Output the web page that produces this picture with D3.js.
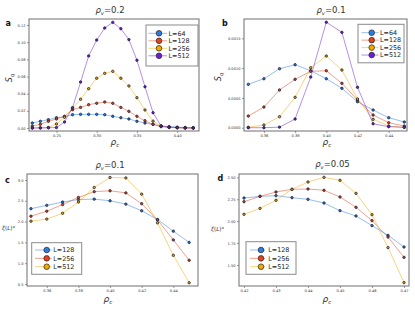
<!DOCTYPE html>
<html>
<head>
<meta charset="utf-8">
<script src="https://cdn.jsdelivr.net/npm/d3@7"></script>
<style>
  body { margin: 0; background: #fff; }
  svg { display: block; }
</style>
</head>
<body>
<div id="chart"></div>
<script>
// ── Data ────────────────────────────────────────────────────────────────────
// panel a: S_q vs rho_c, rho_v = 0.2
const xA = [0.22, 0.23, 0.24, 0.25, 0.26, 0.27, 0.28, 0.29, 0.30, 0.31, 0.32,
            0.33, 0.34, 0.35, 0.36, 0.37, 0.38, 0.39, 0.40, 0.41, 0.42];
const sqA64  = [0.0058, 0.0078, 0.0097, 0.0120, 0.0132, 0.0155, 0.0159, 0.0159, 0.0159, 0.0155, 0.0136,
                0.0120, 0.0105, 0.0078, 0.0058, 0.0043, 0.0023, 0.0016, 0.0010, 0.0006, 0.0003];
const sqA128 = [0.0023, 0.0043, 0.0078, 0.0105, 0.0136, 0.0213, 0.0240, 0.0272, 0.0288, 0.0303, 0.0288,
                0.0240, 0.0194, 0.0136, 0.0085, 0.0043, 0.0015, 0.0008, 0.0004, 0.0002, 0.0001];
const sqA256 = [0.0000, 0.0003, 0.0005, 0.0047, 0.0125, 0.0230, 0.0335, 0.0458, 0.0580, 0.0637, 0.0660,
                0.0580, 0.0490, 0.0353, 0.0210, 0.0080, 0.0023, 0.0005, 0.0003, 0.0000, 0.0000];
const sqA512 = [0.0000, 0.0000, 0.0003, 0.0005, 0.0070, 0.0237, 0.0536, 0.0840, 0.1025, 0.1165, 0.1231,
                0.1157, 0.1030, 0.0790, 0.0480, 0.0178, 0.0023, 0.0010, 0.0005, 0.0000, 0.0000];

// panel b: S_q vs rho_c, rho_v = 0.1
const xB = [0.35, 0.36, 0.37, 0.38, 0.39, 0.40, 0.41, 0.42, 0.43, 0.44, 0.45];
const sqB64  = [0.000728, 0.000822, 0.000990, 0.001057, 0.000956, 0.000822, 0.000661, 0.000436, 0.000297, 0.000168, 0.000096];
const sqB128 = [0.000196, 0.000347, 0.000633, 0.000812, 0.000946, 0.000956, 0.000745, 0.000465, 0.000213, 0.000084, 0.000029];
const sqB256 = [0.000007, 0.000045, 0.000185, 0.000510, 0.001007, 0.001203, 0.000968, 0.000482, 0.000141, 0.000029, 0.000007];
const sqB512 = [0.000000, 0.000000, 0.000010, 0.000146, 0.000850, 0.001770, 0.001600, 0.000678, 0.000067, 0.000017, 0.000007];

// panel c: xi/L vs rho_c, rho_v = 0.1
const xC = [0.35, 0.36, 0.37, 0.38, 0.39, 0.40, 0.41, 0.42, 0.43, 0.44, 0.45];
const xiC128 = [2.31, 2.39, 2.47, 2.53, 2.54, 2.50, 2.42, 2.26, 2.05, 1.77, 1.50];
const xiC256 = [2.13, 2.25, 2.41, 2.58, 2.72, 2.74, 2.69, 2.43, 2.04, 1.56, 1.07];
const xiC512 = [2.01, 2.06, 2.20, 2.47, 2.82, 3.06, 3.05, 2.66, 1.97, 1.19, 0.53];

// panel d: xi/L vs rho_c, rho_v = 0.05
const xD = [0.420, 0.425, 0.430, 0.435, 0.440, 0.445, 0.450, 0.455, 0.460, 0.465, 0.470];
const xiD128 = [2.264, 2.283, 2.291, 2.268, 2.249, 2.207, 2.120, 2.059, 1.949, 1.838, 1.705];
const xiD256 = [2.222, 2.283, 2.333, 2.363, 2.367, 2.352, 2.276, 2.158, 2.006, 1.819, 1.587];
const xiD512 = [2.078, 2.146, 2.238, 2.363, 2.447, 2.500, 2.466, 2.317, 2.074, 1.698, 1.299];

// tick values
const ticksXA = [0.25, 0.30, 0.35, 0.40];
const ticksYA = [0.00, 0.02, 0.04, 0.06, 0.08, 0.10, 0.12];
const ticksXB = [0.36, 0.38, 0.40, 0.42, 0.44];
const ticksYB = [0.0000, 0.0005, 0.0010, 0.0015];
const ticksYC = [0.5, 1.0, 1.5, 2.0, 2.5, 3.0];
const ticksXD = [0.42, 0.43, 0.44, 0.45, 0.46, 0.47];
const ticksYD = [1.50, 1.75, 2.00, 2.25, 2.50];

// colour goes by series order in each panel (blue, red, orange, purple)
const PALETTE = ['#2b7de6', '#e2431c', '#f2a900', '#6b1fd6'];
const FONT = '"DejaVu Sans", sans-serif';
const INK = '#333';

const W = 415, H = 310;
const svg = d3.select('#chart').append('svg')
  .attr('width', W).attr('height', H)
  .attr('viewBox', `0 0 ${W} ${H}`);

// ρ with subscript, e.g. ρ_v=0.2
function rhoText(g, x, y, sub, rest, size, anchor) {
  const t = g.append('text')
    .attr('x', x).attr('y', y)
    .attr('text-anchor', anchor)
    .attr('font-family', FONT).attr('font-size', size).attr('fill', INK);
  t.append('tspan').attr('font-style', 'italic').text('ρ');
  t.append('tspan').attr('font-style', 'italic').attr('font-size', size * 0.62)
    .attr('dy', size * 0.25).text(sub);
  if (rest) t.append('tspan').attr('dy', -size * 0.25).text(rest);
  return t;
}

function drawPanel(p) {
  const g = svg.append('g');
  const x = d3.scaleLinear().domain(p.xDom).range([p.box.l, p.box.r]);
  const y = d3.scaleLinear().domain(p.yDom).range([p.box.b, p.box.t]);

  // ── Axes ─────────────────────────────────────────────────────────────────
  const ax = g.append('g')
    .attr('transform', `translate(0,${p.box.b})`)
    .call(d3.axisBottom(x).tickValues(p.xTicks).tickFormat(d3.format(p.xFmt))
      .tickSize(2).tickPadding(1.5));
  const ay = g.append('g')
    .attr('transform', `translate(${p.box.l},0)`)
    .call(d3.axisLeft(y).tickValues(p.yTicks).tickFormat(d3.format(p.yFmt))
      .tickSize(2).tickPadding(1.5));
  [ax, ay].forEach(a => {
    a.select('.domain').remove();
    a.selectAll('line').attr('stroke', '#555').attr('stroke-width', 0.6);
    a.selectAll('text').attr('font-size', 3.6).attr('font-family', FONT).attr('fill', INK);
  });

  // frame
  g.append('rect')
    .attr('x', p.box.l).attr('y', p.box.t)
    .attr('width', p.box.r - p.box.l).attr('height', p.box.b - p.box.t)
    .attr('fill', 'none').attr('stroke', '#6e6e6e').attr('stroke-width', 1);

  // ── Series ───────────────────────────────────────────────────────────────
  const line = d3.line().x(d => x(d[0])).y(d => y(d[1]));
  p.series.forEach((s, k) => {
    const pts = p.xs.map((v, i) => [v, s.ys[i]]);
    g.append('path').datum(pts)
      .attr('d', line)
      .attr('fill', 'none').attr('stroke', PALETTE[k])
      .attr('stroke-opacity', 0.5).attr('stroke-width', 1);
  });
  p.series.forEach((s, k) => {
    const pts = p.xs.map((v, i) => [v, s.ys[i]]);
    g.selectAll(null).data(pts).join('circle')
      .attr('cx', d => x(d[0])).attr('cy', d => y(d[1]))
      .attr('r', 1.2)
      .attr('fill', PALETTE[k]).attr('stroke', '#1e1e2e').attr('stroke-width', 0.8);
  });

  // ── Legend ───────────────────────────────────────────────────────────────
  const lg = p.legend;
  g.append('rect')
    .attr('x', lg.x).attr('y', lg.y).attr('width', lg.w).attr('height', lg.h)
    .attr('fill', '#fff').attr('stroke', '#8a8a8a').attr('stroke-width', 1);
  p.series.forEach((s, i) => {
    const ly = lg.rowY + i * lg.step;
    g.append('line')
      .attr('x1', lg.lineX0).attr('x2', lg.lineX1).attr('y1', ly).attr('y2', ly)
      .attr('stroke', PALETTE[i]).attr('stroke-opacity', 0.5).attr('stroke-width', 1);
    g.append('circle')
      .attr('cx', lg.markX).attr('cy', ly).attr('r', 2.8)
      .attr('fill', PALETTE[i]).attr('stroke', '#222').attr('stroke-width', 0.7);
    g.append('text')
      .attr('x', lg.textX).attr('y', ly + 2.3)
      .attr('font-family', FONT).attr('font-size', 6.4).attr('fill', '#222')
      .text(`L=${s.L}`);
  });

  // ── Labels ───────────────────────────────────────────────────────────────
  rhoText(g, p.titleX, p.titleY, 'v', p.title, 8.5, 'middle');
  rhoText(g, p.xLabelX, p.xLabelY, 'c', '', 9, 'middle');

  g.append('text')
    .attr('x', p.letterX).attr('y', p.letterY)
    .attr('font-family', FONT).attr('font-size', 8).attr('font-weight', 700)
    .attr('fill', '#111').text(p.letter);

  if (p.yLabel === 'S') {
    const t = g.append('text')
      .attr('transform', `translate(${p.yLabelX},${p.yLabelY}) rotate(-90)`)
      .attr('text-anchor', 'middle')
      .attr('font-family', FONT).attr('font-size', 8).attr('fill', INK);
    t.append('tspan').attr('font-style', 'italic').text('S');
    t.append('tspan').attr('font-style', 'italic').attr('font-size', 5).attr('dy', 2).text('q');
  } else {
    const t = g.append('text')
      .attr('x', p.yLabelX).attr('y', p.yLabelY)
      .attr('font-family', FONT).attr('font-size', 5.5).attr('fill', INK);
    t.append('tspan').attr('font-style', 'italic').text('ξ');
    t.append('tspan').text('(');
    t.append('tspan').attr('font-style', 'italic').text('L');
    t.append('tspan').text(')');
    t.append('tspan').attr('font-size', 3.8).attr('dy', -2.5).text('a');
  }
}

// ── Panels ─────────────────────────────────────────────────────────────────
drawPanel({
  box: { l: 29, r: 199, t: 19, b: 131 },
  xDom: [0.2159, 0.4271], yDom: [-0.0035, 0.127],
  xTicks: ticksXA, yTicks: ticksYA, xFmt: '.2f', yFmt: '.2f',
  xs: xA,
  series: [{ L: 64, ys: sqA64 }, { L: 128, ys: sqA128 }, { L: 256, ys: sqA256 }, { L: 512, ys: sqA512 }],
  title: '=0.2', titleX: 110, titleY: 13,
  xLabelX: 115, xLabelY: 145,
  letter: 'a', letterX: 5.5, letterY: 26,
  yLabel: 'S', yLabelX: 12, yLabelY: 78,
  legend: { x: 146, y: 25, w: 52, h: 41, rowY: 33.3, step: 7.5,
            lineX0: 148.5, lineX1: 167, markX: 159, textX: 168.5 }
});

drawPanel({
  box: { l: 244, r: 407, t: 19, b: 131 },
  xDom: [0.34724, 0.45173], yDom: [-0.000055, 0.001824],
  xTicks: ticksXB, yTicks: ticksYB, xFmt: '.2f', yFmt: '.4f',
  xs: xB,
  series: [{ L: 64, ys: sqB64 }, { L: 128, ys: sqB128 }, { L: 256, ys: sqB256 }, { L: 512, ys: sqB512 }],
  title: '=0.1', titleX: 331, titleY: 13,
  xLabelX: 327, xLabelY: 145,
  letter: 'b', letterX: 222, letterY: 26,
  yLabel: 'S', yLabelX: 221, yLabelY: 77,
  legend: { x: 358, y: 24.3, w: 46, h: 38.5, rowY: 32.7, step: 7.45,
            lineX0: 361.5, lineX1: 378.5, markX: 371.7, textX: 380 }
});

drawPanel({
  box: { l: 27, r: 198, t: 174, b: 286 },
  xDom: [0.3475, 0.4556], yDom: [0.452, 3.144],
  xTicks: ticksXB, yTicks: ticksYC, xFmt: '.2f', yFmt: '.1f',
  xs: xC,
  series: [{ L: 128, ys: xiC128 }, { L: 256, ys: xiC256 }, { L: 512, ys: xiC512 }],
  title: '=0.1', titleX: 110, titleY: 167.5,
  xLabelX: 108, xLabelY: 302,
  letter: 'c', letterX: 5, letterY: 183,
  yLabel: 'xi', yLabelX: 2, yLabelY: 230,
  legend: { x: 31.7, y: 242.7, w: 50, h: 31.6, rowY: 250, step: 8.35,
            lineX0: 35, lineX1: 51.7, markX: 46.7, textX: 53.3 }
});

drawPanel({
  box: { l: 239, r: 409, t: 174, b: 286 },
  xDom: [0.41844, 0.47156], yDom: [1.260, 2.538],
  xTicks: ticksXD, yTicks: ticksYD, xFmt: '.2f', yFmt: '.2f',
  xs: xD,
  series: [{ L: 128, ys: xiD128 }, { L: 256, ys: xiD256 }, { L: 512, ys: xiD512 }],
  title: '=0.05', titleX: 332.5, titleY: 167,
  xLabelX: 327, xLabelY: 302,
  letter: 'd', letterX: 217.5, letterY: 181,
  yLabel: 'xi', yLabelX: 211, yLabelY: 231,
  legend: { x: 246, y: 241.7, w: 50, h: 32.6, rowY: 250, step: 8.35,
            lineX0: 250, lineX1: 265, markX: 261, textX: 268.3 }
});
</script>
</body>
</html>
